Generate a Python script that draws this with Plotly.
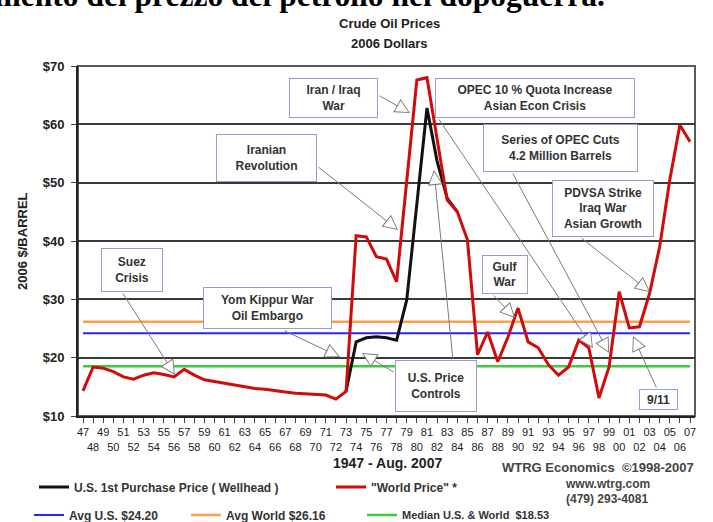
import plotly.graph_objects as go

# ---------------- data ----------------
years = list(range(1947, 2008))
world_price = [14.3, 18.4, 18.2, 17.6, 16.7, 16.3, 17.0, 17.4, 17.1, 16.7,
               18.0, 17.0, 16.2, 15.9, 15.6, 15.3, 15.0, 14.7, 14.6, 14.3,
               14.1, 13.9, 13.8, 13.7, 13.6, 12.9, 14.2, 40.9, 40.7, 37.3,
               36.9, 33.0, 50.5, 67.6, 68.0, 57.5, 47.0, 45.0, 40.2, 20.5,
               24.4, 19.3, 23.5, 28.5, 22.7, 21.7, 18.8, 17.0, 18.4, 23.0,
               21.7, 13.1, 18.4, 31.3, 25.1, 25.3, 31.0, 39.0, 50.5, 59.9,
               57.0]
us_years = list(range(1973, 1985))
us_price = [14.2, 22.7, 23.4, 23.6, 23.4, 23.0, 29.9, 46.0, 62.8, 53.7, 47.3, 45.0]

avg_us = 24.20
avg_world = 26.16
median_all = 18.53

y_ticks = [10, 20, 30, 40, 50, 60, 70]
y_tick_labels = ["$10", "$20", "$30", "$40", "$50", "$60", "$70"]
x_tick_labels = [("" if (y - 1947) % 2 == 0 else "<br>") + f"{y % 100:02d}" for y in years]

# event boxes: text, centre (year, price), width px, height px
events = [
    ("Suez<br>Crisis", 1951.84, 35.03, 62, 44),
    ("Iranian<br>Revolution", 1965.14, 54.23, 101, 48),
    ("Iran / Iraq<br>War", 1971.76, 64.52, 89, 40),
    ("OPEC 10 % Quota Increase<br>Asian Econ Crisis", 1991.68, 64.52, 200, 40),
    ("Series of OPEC Cuts<br>4.2 Million Barrels", 1994.20, 56.00, 155, 48),
    ("PDVSA Strike<br>Iraq War<br>Asian Growth", 1998.40, 45.57, 102, 57),
    ("Gulf<br>War", 1988.71, 34.26, 46, 39),
    ("Yom Kippur War<br>Oil Embargo", 1965.24, 28.52, 129, 42),
    ("U.S. Price<br>Controls", 1981.89, 15.14, 82, 52),
    ("9/11", 2003.88, 12.83, 39, 21),
]
# arrows: tail (year, price) -> tip (year, price)
arrows = [
    (1950.85, 31.26, 1956.09, 17.03),
    (1970.13, 52.86, 1978.14, 41.89),
    (1976.16, 65.03, 1979.32, 61.95),
    (1982.09, 61.09, 1997.41, 21.66),
    (1989.40, 51.83, 1999.00, 20.80),
    (1996.13, 40.69, 2003.05, 31.26),
    (1987.43, 30.92, 1989.70, 26.80),
    (1966.77, 24.74, 1972.40, 20.11),
    (1983.57, 19.60, 1981.69, 52.17),
    (1977.84, 17.37, 1974.58, 20.80),
    (2003.74, 14.63, 2001.36, 23.71),
]

# ---------------- layout constants ----------------
W, H = 713, 522
ML, MR, MT, MB = 78, 18, 66, 106
PW, PH = W - ML - MR, H - MT - MB
XR = [1946.506, 2007.494]
YR = [10, 70]
PX_YEAR = PW / (XR[1] - XR[0])
PX_USD = PH / (YR[1] - YR[0])

FONT = "Arial, Liberation Sans, sans-serif"
TXT = "#333333"


def px_x(px):
    return (px - ML) / PW


def px_y(py):
    return (H - MB - py) / PH


fig = go.Figure()

fig.add_trace(go.Scatter(x=[years[0], years[-1]], y=[median_all, median_all], mode="lines",
                         line=dict(color="#3ccc3c", width=2.5),
                         name="Median U.S. & World  $18.53", legend="legend3"))
fig.add_trace(go.Scatter(x=[years[0], years[-1]], y=[avg_us, avg_us], mode="lines",
                         line=dict(color="#2626ff", width=2),
                         name="Avg U.S. $24.20", legend="legend2"))
fig.add_trace(go.Scatter(x=[years[0], years[-1]], y=[avg_world, avg_world], mode="lines",
                         line=dict(color="#ffa04a", width=2.5),
                         name="Avg World $26.16", legend="legend2"))
fig.add_trace(go.Scatter(x=us_years, y=us_price, mode="lines",
                         line=dict(color="#111111", width=3),
                         name="U.S. 1st Purchase Price ( Wellhead )", legend="legend"))
fig.add_trace(go.Scatter(x=years, y=world_price, mode="lines",
                         line=dict(color="#d10a0a", width=3),
                         name="\"World Price\" *", legend="legend"))

annotations = []
# arrows (grey outline + white inner head for a hollow look)
for tx, ty, hx, hy in arrows:
    annotations.append(dict(x=hx, y=hy, ax=tx, ay=ty, xref="x", yref="y", axref="x", ayref="y",
                            text="", showarrow=True, arrowhead=2, arrowsize=3, arrowwidth=1,
                            arrowcolor="#7a7a7a"))
    dx = (tx - hx) * PX_YEAR
    dy = -(ty - hy) * PX_USD
    n = (dx * dx + dy * dy) ** 0.5
    annotations.append(dict(x=hx, y=hy, ax=dx / n * 13, ay=dy / n * 13, xref="x", yref="y",
                            text="", showarrow=True, arrowhead=2, arrowsize=2.4, arrowwidth=1,
                            standoff=2, arrowcolor="white"))
# boxes
for text, bx, by, w, h in events:
    annotations.append(dict(x=bx, y=by, xref="x", yref="y", text="<b>" + text + "</b>",
                            showarrow=False, width=w - 2, height=h - 2, borderpad=0,
                            bgcolor="white", bordercolor="#9a9ad6", borderwidth=1,
                            font=dict(family=FONT, size=12, color=TXT), align="center",
                            valign="middle"))


def label(px, py, text, size, color="#222", xanchor="center", **kw):
    return dict(x=px_x(px), y=px_y(py), xref="paper", yref="paper", xanchor=xanchor,
                yanchor="middle", text=text, showarrow=False,
                font=dict(family=FONT, size=size, color=color), **kw)


annotations += [
    dict(x=px_x(607), y=px_y(15), xref="paper", yref="paper", xanchor="right", yanchor="bottom",
         text="<b>Andamento del prezzo del petrolio nel dopoguerra.</b>", showarrow=False,
         font=dict(family="Liberation Serif, Times New Roman, serif", size=31.5, color="black")),
    label(390, 23, "<b>Crude Oil Prices</b>", 13),
    label(390, 43, "<b>2006 Dollars</b>", 13),
    label(22, 241, "<b>2006 $/BARREL</b>", 13, textangle=-90),
    label(387, 463, "<b>1947 - Aug. 2007</b>", 14),
    label(500, 467, "<b>WTRG Economics  \u00a91998-2007</b>", 13, color="#444", xanchor="left"),
    label(607, 484, "<b>www.wtrg.com</b>", 12, color="#444"),
    label(607, 499, "<b>(479) 293-4081</b>", 12, color="#444"),
]

legend_font = dict(family=FONT, size=12, color=TXT, weight="bold")
fig.update_layout(
    width=W, height=H,
    margin=dict(l=ML, r=MR, t=MT, b=MB, autoexpand=False),
    paper_bgcolor="white", plot_bgcolor="white",
    showlegend=True,
    legend=dict(orientation="h", x=px_x(34), y=px_y(487), xanchor="left", yanchor="middle",
                entrywidth=252, font=legend_font, bgcolor="rgba(0,0,0,0)", itemwidth=30),
    legend2=dict(orientation="h", x=px_x(29), y=px_y(515), xanchor="left", yanchor="middle",
                 entrywidth=112, font=legend_font, bgcolor="rgba(0,0,0,0)", itemwidth=30),
    legend3=dict(orientation="h", x=px_x(362), y=px_y(515), xanchor="left", yanchor="middle",
                 font=dict(family=FONT, size=11, color=TXT, weight="bold"),
                 bgcolor="rgba(0,0,0,0)", itemwidth=30),
    xaxis=dict(range=XR, tickmode="array", tickvals=years, ticktext=x_tick_labels,
               tickangle=0, ticks="outside", ticklen=5, tickcolor="#444", tickwidth=1,
               tickfont=dict(family=FONT, size=11, color="#222"),
               showgrid=False, zeroline=False, showline=True, linecolor="#222", linewidth=2),
    yaxis=dict(range=YR, tickmode="array", tickvals=y_ticks, ticktext=y_tick_labels,
               ticks="outside", ticklen=5, tickcolor="#444", tickwidth=1,
               tickfont=dict(family=FONT, size=13, color="#222", weight="bold"),
               ticklabelstandoff=4,
               showgrid=True, gridcolor="#3a3a3a", gridwidth=2, zeroline=False,
               showline=True, linecolor="#222", linewidth=2),
    shapes=[dict(type="rect", xref="paper", yref="paper", x0=0, x1=1, y0=0, y1=1,
                 line=dict(color="#5a5a5a", width=2), layer="below")],
    annotations=annotations,
    hovermode=False,
)

fig.write_html("out.html", config={"displayModeBar": False},
               post_script="document.body.style.margin='0px';")
